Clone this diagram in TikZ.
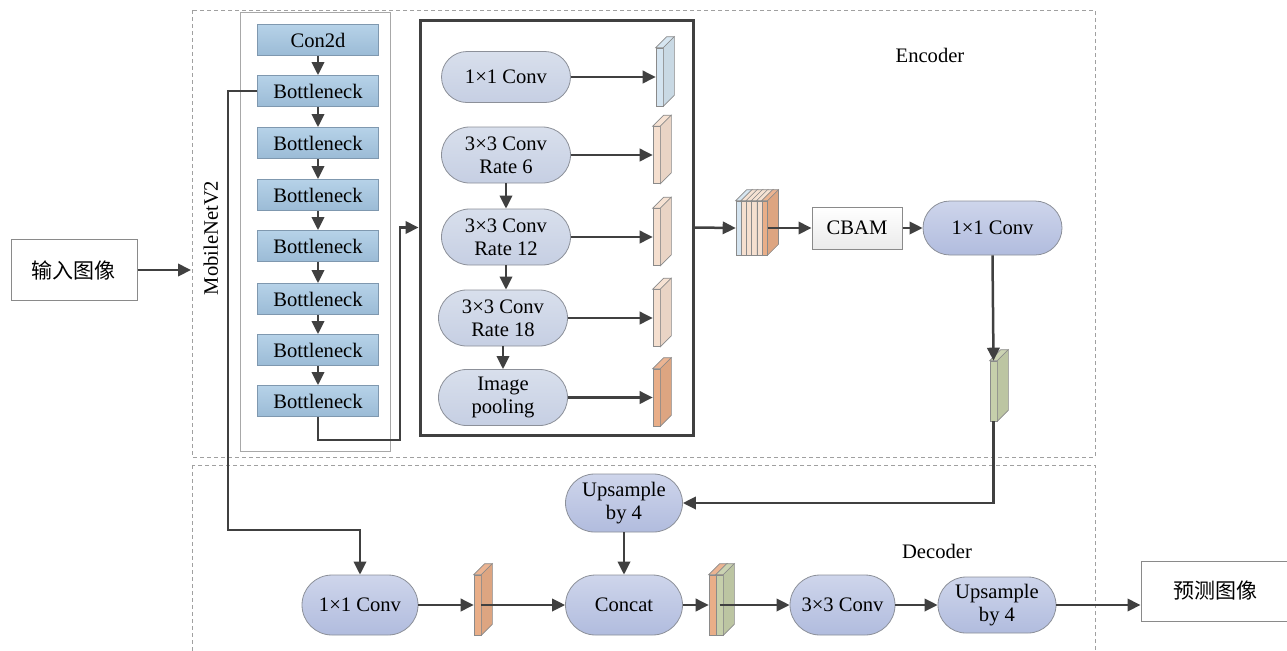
\documentclass[tikz,border=0pt]{standalone}
\usepackage{fontspec}
\setmainfont{Liberation Serif}
\newfontfamily\cjk{Noto Sans CJK SC}
\usetikzlibrary{arrows.meta,shapes.misc}
\definecolor{arrc}{HTML}{404040}
\definecolor{bbord}{HTML}{7F98AF}
\definecolor{btop}{HTML}{B6D2E8}
\definecolor{bbot}{HTML}{9BBBD6}
\definecolor{pbord}{HTML}{8C9099}
\definecolor{atop}{HTML}{D8DFEC}
\definecolor{abot}{HTML}{C6CFE3}
\definecolor{ltop}{HTML}{CED5EB}
\definecolor{lbot}{HTML}{B1BCDE}
\definecolor{sbord}{HTML}{8A8A8A}
\definecolor{sblue}{HTML}{D4E4F0}
\definecolor{speach}{HTML}{F5DFCF}
\definecolor{sorange}{HTML}{E9AE88}
\definecolor{sgreen}{HTML}{C6CFAB}
\definecolor{dashc}{HTML}{A0A0A0}
\definecolor{gboxc}{HTML}{A8A8A8}
\newcommand{\fs}{\fontsize{10.3}{11.5}\selectfont}
\newcommand{\slab}[5]{%
  \node[slabf, fill=#4, minimum height=#3, minimum width=#5] (#1) at #2 {};
  \filldraw[draw=sbord, line width=0.3pt, fill=#4!92!white]
    (#1.north west) -- ++(11,-11) -- ([shift={(11,-11)}]#1.north east) -- (#1.north east) -- cycle;
  \filldraw[draw=sbord, line width=0.3pt, fill=#4!95!black]
    (#1.north east) -- ++(11,-11) -- ([shift={(11,-11)}]#1.south east) -- (#1.south east) -- cycle;
}
\tikzset{
  arr/.style={draw=arrc, line width=1.25pt, -{Triangle[length=6.5pt,width=6.2pt]}},
  bblock/.style={rectangle, draw=bbord, line width=0.4pt, top color=btop, bottom color=bbot,
    minimum width=60.5pt, minimum height=15.5pt, inner sep=0pt, font=\fs},
  apill/.style={rounded rectangle, draw=pbord, line width=0.4pt, top color=atop, bottom color=abot,
    inner sep=0pt, align=center, font=\fs, minimum width=64.5pt, minimum height=28pt},
  lpill/.style={rounded rectangle, draw=pbord, line width=0.4pt, top color=ltop, bottom color=lbot,
    inner sep=0pt, align=center, font=\fs},
  slabf/.style={rectangle, draw=sbord, line width=0.3pt, inner sep=0pt},
  iobox/.style={rectangle, draw=sbord, line width=0.5pt, fill=white, inner sep=0pt, font=\cjk\fontsize{10.5}{12}\selectfont},
  dashbox/.style={draw=dashc, line width=0.4pt, dash pattern=on 2pt off 1.5pt},
  lbl/.style={font=\fs, inner sep=0pt},
}
\begin{document}
\begin{tikzpicture}[x=0.5pt,y=-0.5pt]
\useasboundingbox (0,0) rectangle (1287,650);
\fill[white] (0,0) rectangle (1287,650);
% frames
\draw[dashbox] (192,10) rectangle (1095,457);
\draw[dashbox] (192,465) rectangle (1095,680);
\draw[draw=gboxc, line width=0.5pt] (240,12) rectangle (390,451);
\node[lbl] (enc) at (930,55) {Encoder};
\node[lbl] (dec) at (937,551) {Decoder};
\node[lbl, rotate=90] (mlab) at (211,238) {MobileNetV2};
% input / output
\node[iobox, minimum width=63pt, minimum height=30.5pt] (in) at (74,270) {输入图像};
\node[iobox, minimum width=74pt, minimum height=30pt] (pred) at (1215,591) {预测图像};
\coordinate (encin) at (191,270);
\draw[arr] (in.east) -- (encin);
% MobileNetV2 blocks
\node[bblock] (c0) at (318,40) {Con2d};
\node[bblock] (b1) at (318,91) {Bottleneck};
\node[bblock] (b2) at (318,143) {Bottleneck};
\node[bblock] (b3) at (318,195) {Bottleneck};
\node[bblock] (b4) at (318,246) {Bottleneck};
\node[bblock] (b5) at (318,299) {Bottleneck};
\node[bblock] (b6) at (318,350) {Bottleneck};
\node[bblock] (b7) at (318,401) {Bottleneck};
\foreach \a/\b in {c0/b1,b1/b2,b2/b3,b3/b4,b4/b5,b5/b6,b6/b7}
  \draw[arr] (\a.south) -- (\b.north);
% ASPP
\node[draw=arrc, line width=1.5pt, minimum width=136.5pt, minimum height=207.5pt, inner sep=0pt] (aspp) at (556.5,227.5) {};
\coordinate (m1) at (400,440);
\draw[arr] (b7.south) |- (m1) |- (aspp.west);
\node[apill, minimum height=25.5pt] (p1) at (506,77) {1×1 Conv};
\node[apill] (p2) at (506,155) {3×3 Conv\\Rate 6};
\node[apill] (p3) at (506,237) {3×3 Conv\\Rate 12};
\node[apill] (p4) at (503,318) {3×3 Conv\\Rate 18};
\node[apill] (p5) at (503,397.5) {Image\\pooling};
\draw[arr] (p2.south) -- (p2.south |- p3.north);
\draw[arr] (p3.south) -- (p3.south |- p4.north);
\draw[arr] (p4.south) -- (p4.south |- p5.north);
\slab{s1}{(659.5,77)}{29pt}{sblue}{3.5pt}
\slab{s2}{(656.5,155)}{28.5pt}{speach}{3.5pt}
\slab{s3}{(656.5,237)}{28.5pt}{speach}{3.5pt}
\slab{s4}{(656.5,318)}{28.5pt}{speach}{3.5pt}
\slab{s5}{(656.5,397.5)}{28.5pt}{sorange}{3.5pt}
\foreach \i in {1,...,5} \draw[arr] (p\i.east) -- (s\i.west);
% concatenated stack
\foreach \c [count=\i] in {sblue,speach,speach,speach,speach,sorange}{
  \slab{k\i}{({733.4+5.2*\i},228)}{27pt}{\c}{2.6pt}
}
\draw[arr] (aspp.east) -- (k1.west);
\node[rectangle, draw=sbord, line width=0.5pt, top color=white, bottom color=black!8, minimum width=45pt, minimum height=21pt, inner sep=0pt, font=\fs] (cbam) at (857,228) {CBAM};
\draw[arr] (k6.east) -- (cbam.west);
\node[lpill, minimum width=69.5pt, minimum height=27pt] (rconv) at (992.5,228) {1×1 Conv};
\draw[arr] (cbam.east) -- (rconv.west);
\slab{gs}{(993.5,391)}{30pt}{sgreen}{3.5pt}
\draw[arr] (rconv.south) -- (gs.north);
% decoder
\node[lpill, minimum width=58.5pt, minimum height=29pt] (up1) at (624,503) {Upsample\\by 4};
\draw[arr] (gs.south) |- (up1.east);
\node[lpill, minimum width=58pt, minimum height=30pt] (dconv) at (360,605) {1×1 Conv};
\coordinate (k1s) at (228,91);
\coordinate (k2s) at (228,530);
\draw[arr] (b1.west) -- (k1s) -- (k2s) -| (dconv.north);
\slab{os}{(477.5,605)}{30pt}{sorange}{3.5pt}
\node[lpill, minimum width=58.5pt, minimum height=30pt] (cc) at (624,605) {Concat};
\draw[arr] (up1.south) -- (cc.north);
\draw[arr] (dconv.east) -- (os.west);
\draw[arr] (os.east) -- (cc.west);
\slab{co}{(712.5,605)}{30pt}{sorange}{3.5pt}
\slab{cg}{(719.5,605)}{30pt}{sgreen}{3.5pt}
\draw[arr] (cc.east) -- (co.west);
\node[lpill, minimum width=52.5pt, minimum height=30pt] (c33) at (842.5,605) {3×3 Conv};
\draw[arr] (cg.center) -- (c33.west);
\node[lpill, minimum width=59pt, minimum height=28pt] (up2) at (997,605) {Upsample\\by 4};
\draw[arr] (c33.east) -- (up2.west);
\draw[arr] (up2.east) -- (up2.east -| pred.west);
\end{tikzpicture}
\end{document}
